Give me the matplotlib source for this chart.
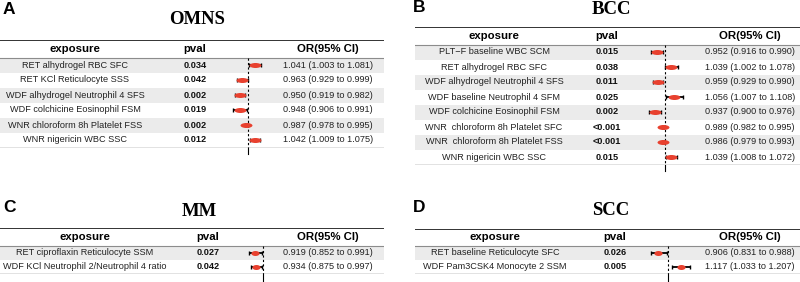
import matplotlib.pyplot as plt
from matplotlib.path import Path
from matplotlib.transforms import Affine2D

# ---- data ----
A_exposure = ["RET alhydrogel RBC SFC", "RET KCl Reticulocyte SSS",
              "WDF alhydrogel Neutrophil 4 SFS", "WDF colchicine Eosinophil FSM",
              "WNR chloroform 8h Platelet FSS", "WNR nigericin WBC SSC"]
A_pval = ["0.034", "0.042", "0.002", "0.019", "0.002", "0.012"]
A_or = [1.041, 0.963, 0.950, 0.948, 0.987, 1.042]
A_lo = [1.003, 0.929, 0.919, 0.906, 0.978, 1.009]
A_hi = [1.081, 0.999, 0.982, 0.991, 0.995, 1.075]

B_exposure = ["PLT\u2212F baseline WBC SCM", "RET alhydrogel RBC SFC",
              "WDF alhydrogel Neutrophil 4 SFS", "WDF baseline Neutrophil 4 SFM",
              "WDF colchicine Eosinophil FSM", "WNR  chloroform 8h Platelet SFC",
              "WNR  chloroform 8h Platelet FSS", "WNR nigericin WBC SSC"]
B_pval = ["0.015", "0.038", "0.011", "0.025", "0.002", "<0.001", "<0.001", "0.015"]
B_or = [0.952, 1.039, 0.959, 1.056, 0.937, 0.989, 0.986, 1.039]
B_lo = [0.916, 1.002, 0.929, 1.007, 0.900, 0.982, 0.979, 1.008]
B_hi = [0.990, 1.078, 0.990, 1.108, 0.976, 0.995, 0.993, 1.072]

C_exposure = ["RET ciproflaxin Reticulocyte SSM", "WDF KCl Neutrophil 2/Neutrophil 4 ratio"]
C_pval = ["0.027", "0.042"]
C_or = [0.919, 0.934]
C_lo = [0.852, 0.875]
C_hi = [0.991, 0.997]

D_exposure = ["RET baseline Reticulocyte SFC", "WDF Pam3CSK4 Monocyte 2 SSM"]
D_pval = ["0.026", "0.005"]
D_or = [0.906, 1.117]
D_lo = [0.831, 1.033]
D_hi = [0.988, 1.207]

W, H = 800, 282
SANS = "Liberation Sans"
SERIF = "Liberation Serif"
RED = "#e8412f"

fig = plt.figure(figsize=(8, 2.82), dpi=100)


def px_axes(x0, x1, y0, y1):
    return fig.add_axes([x0 / W, 1 - y1 / H, (x1 - x0) / W, (y1 - y0) / H])


def ellipse_marker(ratio):
    return Path.unit_circle().transformed(Affine2D().scale(1, ratio))


def panel(letter, title, letter_xy, title_xy, exposure, pval, orv, lo, hi,
          x0, x1, top, head_h, row_h, cols, fx, xlim, ms, ratio, ext):
    n = len(exposure)
    bottom = top + head_h + n * row_h
    hr = head_h / row_h
    ylim = (n - 0.5, -0.5 - hr)

    fig.text(letter_xy[0] / W, 1 - letter_xy[1] / H, letter, family=SANS,
             fontweight="bold", fontsize=12.5, ha="left", va="center")
    fig.text(title_xy[0] / W, 1 - title_xy[1] / H, title, family=SERIF,
             fontweight="bold", fontsize=13.5, ha="center", va="center")

    ax = px_axes(x0, x1, top, bottom)
    ax.set_xlim(0, x1 - x0)
    ax.set_ylim(*ylim)
    ax.axis("off")
    for i in range(0, n, 2):
        ax.axhspan(i - 0.5, i + 0.5, color="#ebebeb", lw=0)
    ax.axhline(-0.5 - hr, color="#333333", lw=1.4)
    ax.axhline(-0.5, color="#8c8c8c", lw=0.8)
    ax.axhline(n - 0.5, color="#6e6e6e", lw=1.0)

    hy = -0.5 - hr / 2
    ce, cp, co = cols
    for cx, lab in [(ce, "exposure"), (cp, "pval"), (co, "OR(95% CI)")]:
        ax.text(cx, hy, lab, family=SANS, fontweight="bold", fontsize=8.2,
                ha="center", va="center")
    for i in range(n):
        ax.text(ce, i, exposure[i], family=SANS, fontsize=6.6, color="#222222",
                ha="center", va="center")
        ax.text(cp, i, pval[i], family=SANS, fontsize=6.6, fontweight="bold",
                color="#111111", ha="center", va="center")
        ax.text(co, i, f"{orv[i]:.3f} ({lo[i]:.3f} to {hi[i]:.3f})", family=SANS,
                fontsize=6.6, color="#222222", ha="center", va="center")

    # forest column
    fa = px_axes(fx[0], fx[1], top, bottom)
    fa.set_xlim(*xlim)
    fa.set_ylim(*ylim)
    fa.axis("off")
    ys = list(range(n))
    fa.plot([1, 1], [-0.5, n - 0.5], color="black", lw=0.8, ls=(0, (2, 2)))
    fa.plot([1, 1], [n - 0.5, n - 0.5 + ext], color="black", lw=0.8, clip_on=False)
    fa.errorbar(orv, ys, xerr=[[o - l for o, l in zip(orv, lo)],
                               [h - o for o, h in zip(orv, hi)]],
                fmt="none", ecolor="black", elinewidth=1.3, capsize=1.6,
                capthick=1.0)
    fa.plot(orv, ys, ls="none", marker=ellipse_marker(ratio), ms=ms,
            color=RED, mec=RED, mew=0)


panel("A", "OMNS", (3, 9), (197, 20), A_exposure, A_pval, A_or, A_lo, A_hi,
      0, 384, 40, 17.5, 15, (75, 195, 328), (225, 275), (0.854, 1.167),
      8.6, 0.42, 0.4)
panel("B", "BCC", (413, 8), (611, 9), B_exposure, B_pval, B_or, B_lo, B_hi,
      415, 800, 27, 17.5, 15, (79, 192, 335), (640, 690), (0.848, 1.152),
      8.6, 0.42, 0.45)
panel("C", "MM", (3, 207), (199, 211.5), C_exposure, C_pval, C_or, C_lo, C_hi,
      0, 384, 228, 17.5, 14, (85, 208, 328), (235, 285), (0.704, 1.242),
      6.0, 0.6, 0.5)
panel("D", "SCC", (413, 208), (611, 210.5), D_exposure, D_pval, D_or, D_lo, D_hi,
      415, 800, 229, 16.5, 14, (80, 200, 335), (640, 700), (0.730, 1.302),
      6.0, 0.6, 0.55)

fig.savefig("out.png", dpi=100)
